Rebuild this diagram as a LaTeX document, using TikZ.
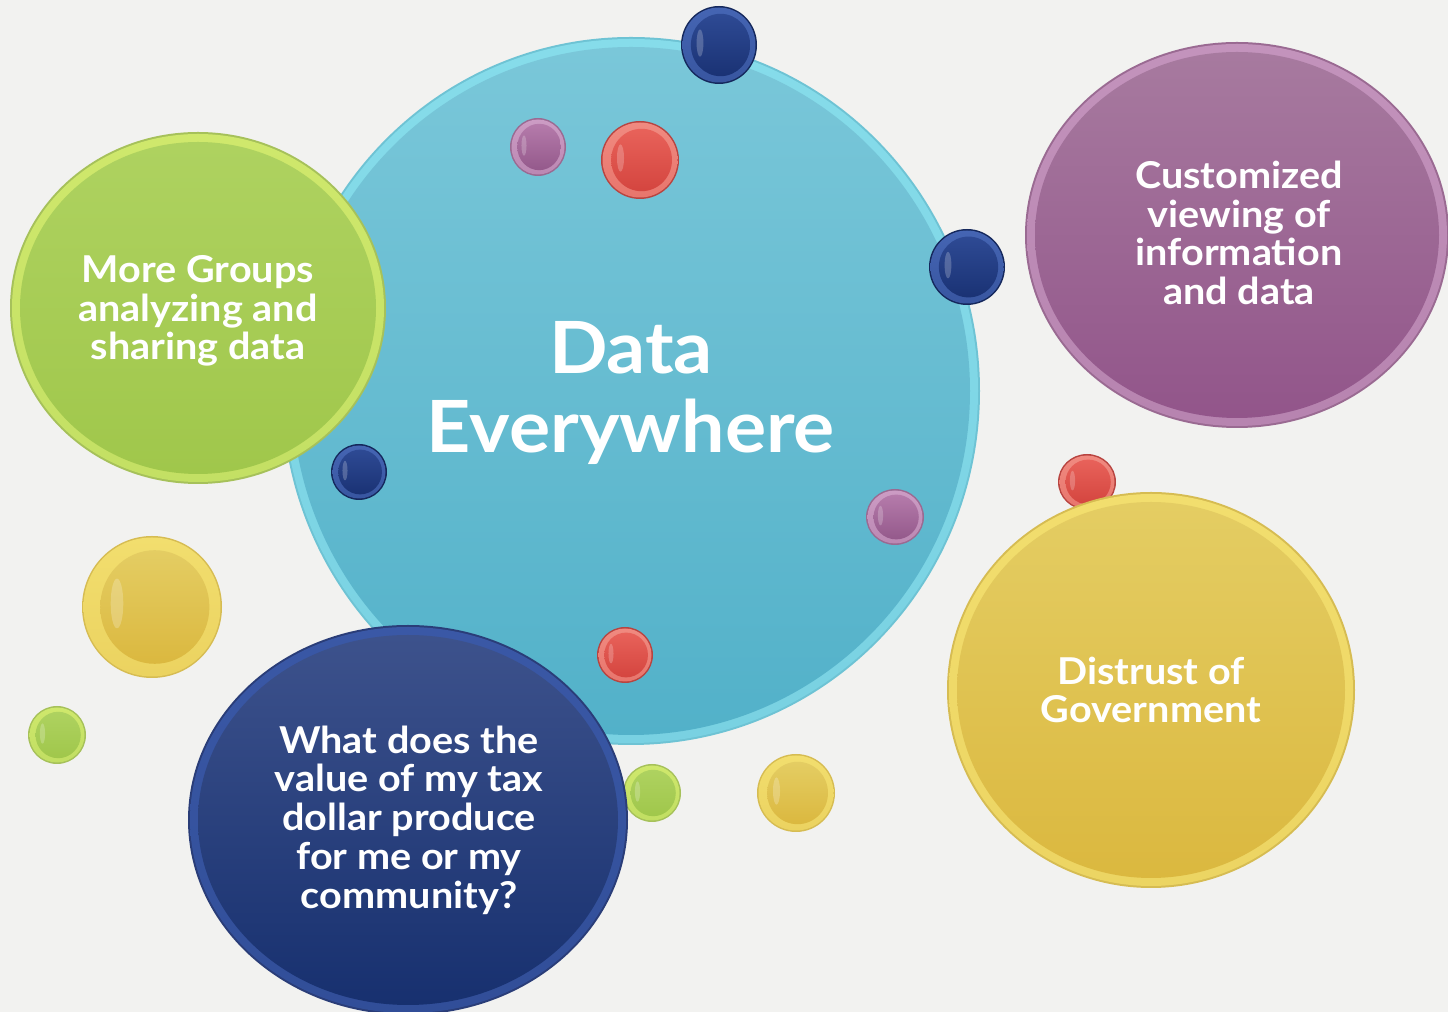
\documentclass[tikz,border=0pt]{standalone}
\usepackage{fontspec}
\setmainfont{Lato}[FakeStretch=1.07]
\usetikzlibrary{shapes.geometric}
\definecolor{bg}{HTML}{F2F2F0}
\definecolor{cyT}{HTML}{7AC7D9}\definecolor{cyB}{HTML}{52B1C9}\definecolor{cyR}{HTML}{86DCEA}\definecolor{cyE}{HTML}{6EC3D4}
\definecolor{grT}{HTML}{AED260}\definecolor{grB}{HTML}{A0C74B}\definecolor{grR}{HTML}{CFE86C}\definecolor{grE}{HTML}{A6C15A}
\definecolor{puT}{HTML}{A77A9F}\definecolor{puB}{HTML}{92558A}\definecolor{puR}{HTML}{C393BC}\definecolor{puE}{HTML}{9A6A92}
\definecolor{yeT}{HTML}{E4CD63}\definecolor{yeB}{HTML}{DBB83F}\definecolor{yeR}{HTML}{F2DE6E}\definecolor{yeE}{HTML}{D6BC52}
\definecolor{nvT}{HTML}{3D528C}\definecolor{nvB}{HTML}{17306F}\definecolor{nvR}{HTML}{3A58A6}\definecolor{nvE}{HTML}{2A3D78}
\definecolor{rdT}{HTML}{E8625A}\definecolor{rdB}{HTML}{D4453F}\definecolor{rdR}{HTML}{F08A80}\definecolor{rdE}{HTML}{B84440}
\definecolor{spT}{HTML}{B57BAB}\definecolor{spB}{HTML}{94598B}\definecolor{spR}{HTML}{CC9CC4}
\definecolor{snT}{HTML}{2E4A94}\definecolor{snB}{HTML}{1A3274}\definecolor{snR}{HTML}{4565B3}\definecolor{snE}{HTML}{15285C}
\newcommand{\bigbub}[8]{%
  \fill[#8] (#1,#2) ellipse [x radius=#3, y radius=#4];
  \shade[top color=#7, bottom color=#7!75!#6] (#1,#2) ellipse [x radius={#3-2}, y radius={#4-2}];
  \shade[top color=#5, bottom color=#6] (#1,#2) ellipse [x radius={#3-10}, y radius={#4-10}];
}
\newcommand{\smbub}[8]{% x y rx ry rim top bottom edge
  \fill[#8] (#1,#2) ellipse [x radius=#3, y radius=#4];
  \shade[top color=#5, bottom color=#5!70!#7] (#1,#2) ellipse [x radius={#3-1.5}, y radius={#4-1.5}];
  \shade[top color=#6, bottom color=#7] ({#1+0.04*#3},#2) ellipse [x radius={0.78*#3}, y radius={0.8*#4}];
  \fill[white, opacity=0.22] ({#1-0.5*#3},{#2+0.05*#4}) ellipse [x radius={0.09*#3}, y radius={0.35*#4}];
}
\tikzset{
  lbl/.style={text=white, align=center, font=\bfseries\fontsize{18.5}{19.4}\selectfont, inner sep=0pt},
  title/.style={text=white, align=center, font=\bfseries\fontsize{36}{39.5}\selectfont, inner sep=0pt}
}
\begin{document}
\begin{tikzpicture}[x=0.5pt, y=0.5pt]
\fill[bg] (0,0) rectangle (1448,1012);
\useasboundingbox (0,0) rectangle (1448,1012);
% central bubble
\bigbub{631}{621}{349}{354}{cyT}{cyB}{cyR}{cyE}
\smbub{538}{865}{28}{29}{spR}{spT}{spB}{puE}
\smbub{640}{852}{39}{39}{rdR}{rdT}{rdB}{rdE}
\smbub{625}{357}{28}{28}{rdR}{rdT}{rdB}{rdE}
\smbub{895}{495}{29}{28}{spR}{spT}{spB}{puE}
% green bubble
\bigbub{198}{704}{188}{176}{grT}{grB}{grR}{grE}
\smbub{359}{540}{28}{28}{snR}{snT}{snB}{snE}
\smbub{719}{967}{38}{39}{snR}{snT}{snB}{snE}
\smbub{967}{745}{38}{38}{snR}{snT}{snB}{snE}
% purple bubble
\bigbub{1237}{777}{212}{193}{puT}{puB}{puR}{puE}
% yellow bubble
\smbub{1087}{530}{29}{28}{rdR}{rdT}{rdB}{rdE}
\bigbub{1151}{322}{204}{198}{yeT}{yeB}{yeR}{yeE}
% small left / bottom
\smbub{152}{405}{70}{71}{yeR}{yeT}{yeB}{yeE}
\smbub{57}{277}{29}{29}{grR}{grT}{grB}{grE}
\smbub{652}{219}{29}{29}{grR}{grT}{grB}{grE}
\smbub{796}{219}{39}{39}{yeR}{yeT}{yeB}{yeE}
% navy bubble
\bigbub{408}{192}{220}{195}{nvT}{nvB}{nvR}{nvE}
% texts
\node[title] (tCenter) at (631,619) {Data\\Everywhere};
\node[lbl] (tGreen) at (198,701) {More Groups\\analyzing and\\sharing data};
\node[lbl] (tPurple) at (1239,779) {Customized\\viewing of\\information\\and data};
\node[lbl] (tYellow) at (1151,322) {Distrust of\\Government};
\node[lbl] (tNavy) at (409,192) {What does the\\value of my tax\\dollar produce\\for me or my\\community?};
\end{tikzpicture}
\end{document}
